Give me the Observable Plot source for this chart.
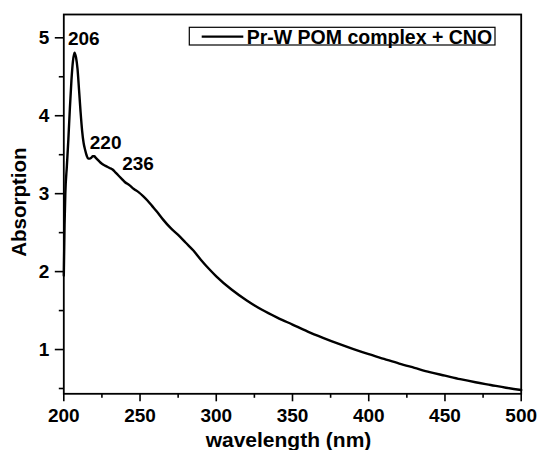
<!DOCTYPE html>
<html>
<head>
<meta charset="utf-8">
<script src="https://cdn.jsdelivr.net/npm/d3@7"></script>
<script src="https://cdn.jsdelivr.net/npm/@observablehq/plot@0.6"></script>
<style>
  html, body { margin: 0; padding: 0; background: #fff; }
  svg { display: block; }
</style>
</head>
<body>
<div id="chart"></div>
<script>
// ---- data ----
const wavelength = [200, 200.5, 201, 202, 203, 204, 205, 206, 207, 208, 209, 210, 211, 212, 213, 214, 215, 216, 217, 218, 219, 220, 221, 222, 224, 226, 228, 230, 232, 234, 236, 238, 240, 243, 246, 249, 252, 255, 258, 261, 265, 270, 275, 280, 285, 290, 295, 300, 310, 320, 330, 340, 350, 360, 370, 380, 390, 400, 410, 420, 430, 440, 450, 460, 470, 480, 490, 500];
const absorption = [1.95, 2.6, 3.0, 3.35, 3.7, 4.1, 4.45, 4.7, 4.81, 4.75, 4.6, 4.33, 4.05, 3.81, 3.65, 3.56, 3.49, 3.45, 3.45, 3.46, 3.48, 3.48, 3.46, 3.44, 3.40, 3.37, 3.35, 3.33, 3.31, 3.27, 3.23, 3.19, 3.15, 3.11, 3.06, 3.02, 2.97, 2.91, 2.84, 2.77, 2.67, 2.56, 2.47, 2.37, 2.27, 2.15, 2.04, 1.94, 1.77, 1.63, 1.51, 1.41, 1.32, 1.23, 1.15, 1.075, 1.005, 0.94, 0.88, 0.82, 0.765, 0.71, 0.665, 0.62, 0.58, 0.545, 0.51, 0.48];

const peakLabels = ["206", "220", "236"];
const peakWavelength = [206, 220, 236];
const peakAbsorption = [4.81, 3.48, 3.23];

const xTicks = [200, 250, 300, 350, 400, 450, 500];
const xMinorTicks = [225, 275, 325, 375, 425, 475];
const yTicks = [1, 2, 3, 4, 5];
const yMinorTicks = [0.5, 1.5, 2.5, 3.5, 4.5];

const seriesName = "Pr-W POM complex + CNO";
const xTitle = "wavelength (nm)";
const yTitle = "Absorption";

// ---- layout ----
const W = 541, H = 450;
const mL = 63.3, mR = 20.3, mT = 14, mB = 56.7;
const FONT = "'Liberation Sans', Arial, Helvetica, sans-serif";

const data = wavelength.map((w, i) => ({w, a: absorption[i]}));
const peaks = peakLabels.map((t, i) => ({t, w: peakWavelength[i], a: peakAbsorption[i]}));

const plot = Plot.plot({
  width: W,
  height: H,
  marginLeft: mL,
  marginRight: mR,
  marginTop: mT,
  marginBottom: mB,
  style: {fontFamily: FONT, fontWeight: "bold", background: "#fff", color: "#000", overflow: "visible"},
  x: {domain: [200, 500]},
  y: {domain: [0.432, 5.299]},
  marks: [
    Plot.axisX(xTicks, {anchor: "bottom", tickSize: 8, tickPadding: 7, fontSize: 19, strokeWidth: 1.6, tickFormat: d3.format("d"), label: null}),
    Plot.axisX(xMinorTicks, {anchor: "bottom", tickSize: 4.5, tickFormat: () => "", strokeWidth: 1.6, label: null}),
    Plot.axisY(yTicks, {anchor: "left", tickSize: 8.5, tickPadding: 6, fontSize: 19, strokeWidth: 1.6, tickFormat: d3.format("d"), label: null}),
    Plot.axisY(yMinorTicks, {anchor: "left", tickSize: 4.5, tickFormat: () => "", strokeWidth: 1.6, label: null}),
    Plot.line(data, {x: "w", y: "a", stroke: "#000", strokeWidth: 2.4, curve: "monotone-x"}),
    Plot.frame({stroke: "#000", strokeWidth: 1.8}),
    Plot.text([peaks[0]], {x: "w", y: "a", text: "t", textAnchor: "start", lineAnchor: "bottom", dx: -5, dy: -7.5, fontSize: 19, fill: "#000"}),
    Plot.text([peaks[1]], {x: "w", y: "a", text: "t", textAnchor: "start", lineAnchor: "bottom", dx: -4.5, dy: -7.5, fontSize: 19, fill: "#000"}),
    Plot.text([peaks[2]], {x: "w", y: "a", text: "t", textAnchor: "start", lineAnchor: "bottom", dx: 3.5, dy: -6, fontSize: 19, fill: "#000"}),
    Plot.text([xTitle], {frameAnchor: "bottom", text: d => d, textAnchor: "middle", lineAnchor: "bottom", dx: -4, dy: 53.5, fontSize: 21, fill: "#000"}),
    Plot.text([yTitle], {frameAnchor: "left", text: d => d, textAnchor: "middle", lineAnchor: "middle", rotate: -90, dx: -44, dy: -2, fontSize: 20.5, fill: "#000"})
  ]
});

// ---- legend inside the frame (top-right) ----
const svg = d3.select(plot);
const frameRight = W - mR;
const boxW = 305.7, boxH = 17.7;
const boxX = frameRight - 25.7 - boxW;
const boxY = mT + 13.3;
const g = svg.append("g").attr("class", "legend");
g.append("rect")
  .attr("x", boxX).attr("y", boxY).attr("width", boxW).attr("height", boxH)
  .attr("fill", "#fff").attr("stroke", "#000").attr("stroke-width", 1.2);
g.append("line")
  .attr("x1", boxX + 12.4).attr("x2", boxX + 54).attr("y1", boxY + 9.4).attr("y2", boxY + 9.4)
  .attr("stroke", "#000").attr("stroke-width", 2.3);
g.append("text")
  .attr("x", boxX + 57.4).attr("y", boxY + 16.7)
  .attr("text-anchor", "start")
  .attr("font-family", FONT).attr("font-weight", "bold").attr("font-size", 19.5)
  .attr("fill", "#000")
  .text(seriesName);

document.getElementById("chart").appendChild(plot);
</script>
</body>
</html>
